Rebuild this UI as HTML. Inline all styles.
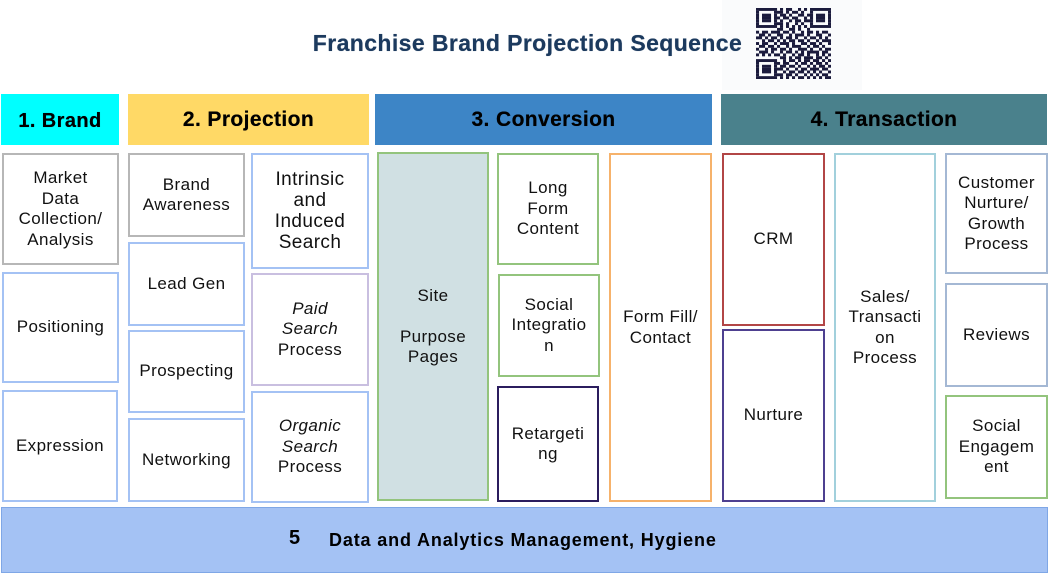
<!DOCTYPE html>
<html>
<head>
<meta charset="utf-8">
<style>
  html,body{margin:0;padding:0;background:#ffffff;}
  body{width:1052px;height:580px;position:relative;overflow:hidden;font-family:"Liberation Sans",Arial,sans-serif;color:#111;}
  .abs{position:absolute;box-sizing:border-box;}
  .hdr{position:absolute;box-sizing:border-box;display:flex;align-items:center;justify-content:center;font-weight:bold;font-size:21px;letter-spacing:0.4px;color:#000;text-shadow:0 0 0.4px #000;}
  .box{position:absolute;box-sizing:border-box;border:2px solid #a4c2f4;background:#fff;display:flex;align-items:center;justify-content:center;text-align:center;font-size:17px;letter-spacing:0.4px;line-height:20.5px;color:#111;}
  .title{position:absolute;left:300px;top:30px;width:455px;text-align:center;font-weight:bold;font-size:23px;letter-spacing:0.4px;color:#1c3a5e;text-shadow:0 0 0.5px #1c3a5e;}
</style>
</head>
<body>
<!-- faint QR panel -->
<div class="abs" style="left:722px;top:0;width:140px;height:90px;background:#fafbfc;"></div>
<div class="title">Franchise Brand Projection Sequence</div>
<svg class="abs" style="left:756px;top:8px;" width="75" height="71" viewBox="0 0 25 25" preserveAspectRatio="none" id="qr"></svg>

<!-- headers -->
<div class="hdr" style="left:1px;top:94px;width:118px;height:51px;background:#00ffff;padding-top:4px;font-size:20px;">1. Brand</div>
<div class="hdr" style="left:128px;top:94px;width:241px;height:51px;background:#ffd966;">2. Projection</div>
<div class="hdr" style="left:375px;top:94px;width:337px;height:51px;background:#3d85c6;">3. Conversion</div>
<div class="hdr" style="left:721px;top:94px;width:326px;height:51px;background:#4a818c;">4. Transaction</div>

<!-- Brand column -->
<div class="box" style="left:2px;top:153px;width:117px;height:112px;border-color:#b7b7b7;">Market<br>Data<br>Collection/<br>Analysis</div>
<div class="box" style="left:2px;top:272px;width:117px;height:111px;">Positioning</div>
<div class="box" style="left:2px;top:390px;width:116px;height:112px;">Expression</div>

<!-- Projection left -->
<div class="box" style="left:128px;top:153px;width:117px;height:84px;border-color:#b7b7b7;">Brand<br>Awareness</div>
<div class="box" style="left:128px;top:242px;width:117px;height:84px;">Lead Gen</div>
<div class="box" style="left:128px;top:330px;width:117px;height:83px;">Prospecting</div>
<div class="box" style="left:128px;top:418px;width:117px;height:84px;">Networking</div>

<!-- Projection right -->
<div class="box" style="left:251px;top:153px;width:118px;height:116px;font-size:19px;line-height:21px;">Intrinsic<br>and<br>Induced<br>Search</div>
<div class="box" style="left:251px;top:273px;width:118px;height:113px;border-color:#c9bfe0;"><span><i>Paid<br>Search</i><br>Process</span></div>
<div class="box" style="left:251px;top:391px;width:118px;height:112px;"><span><i>Organic<br>Search</i><br>Process</span></div>

<!-- Conversion -->
<div class="box" style="left:377px;top:152px;width:112px;height:349px;background:#d0e0e3;border-color:#93c47d;">Site<br><br>Purpose<br>Pages</div>
<div class="box" style="left:497px;top:153px;width:102px;height:112px;border-color:#93c47d;">Long<br>Form<br>Content</div>
<div class="box" style="left:498px;top:274px;width:102px;height:103px;border-color:#93c47d;">Social<br>Integratio<br>n</div>
<div class="box" style="left:497px;top:386px;width:102px;height:116px;border-color:#2b1d5e;">Retargeti<br>ng</div>
<div class="box" style="left:609px;top:153px;width:103px;height:349px;border-color:#f6b26b;">Form Fill/<br>Contact</div>

<!-- Transaction -->
<div class="box" style="left:722px;top:153px;width:103px;height:173px;border-color:#b24646;">CRM</div>
<div class="box" style="left:722px;top:329px;width:103px;height:173px;border-color:#4e4090;">Nurture</div>
<div class="box" style="left:834px;top:153px;width:102px;height:349px;border-color:#a2d0dc;">Sales/<br>Transacti<br>on<br>Process</div>
<div class="box" style="left:945px;top:153px;width:103px;height:121px;border-color:#a4b8d4;">Customer<br>Nurture/<br>Growth<br>Process</div>
<div class="box" style="left:945px;top:283px;width:103px;height:104px;border-color:#a4b8d4;">Reviews</div>
<div class="box" style="left:945px;top:395px;width:103px;height:104px;border-color:#93c47d;">Social<br>Engagem<br>ent</div>

<!-- bottom bar -->
<div class="abs" style="left:1px;top:507px;width:1047px;height:66px;background:#a4c2f4;border:1.5px solid #7fa7e6;"></div>
<div class="abs" style="left:289px;top:527px;font-weight:bold;font-size:20px;color:#000;">5</div>
<div class="abs" style="left:329px;top:530px;font-weight:bold;font-size:18px;letter-spacing:0.85px;color:#000;white-space:nowrap;">Data and Analytics Management, Hygiene</div>

<script>
(function(){
var rows=[
"1111111010110010101111111",
"1000001110101101001000001",
"1011101011010011011011101",
"1011101101101100101011101",
"1011101010010110111011101",
"1000001110100101001000001",
"1111111010101010101111111",
"0000000110011010010000000",
"1011011101101001011010110",
"0110100110010111010011001",
"1101011010110100101101010",
"0010110101011011010010111",
"1011001011101001101101001",
"0110110100101110010110100",
"1001011011010011101001011",
"0111010010110101011110110",
"1010101101001011010010101",
"0000000011010110111011010",
"1111111001011010110110101",
"1000001101100101101011010",
"1011101011011010010101101",
"1011101110100101101110110",
"1011101001011011010101001",
"1000001110110100101010110",
"1111111010101011010101011"];
var svg=document.getElementById('qr');var ns='http://www.w3.org/2000/svg';
for(var y=0;y<25;y++){for(var x=0;x<25;x++){if(rows[y][x]==='1'){var r=document.createElementNS(ns,'rect');r.setAttribute('x',x);r.setAttribute('y',y);r.setAttribute('width',1.02);r.setAttribute('height',1.02);r.setAttribute('fill','#1b1b3d');svg.appendChild(r);}}}
})();
</script>
</body>
</html>
